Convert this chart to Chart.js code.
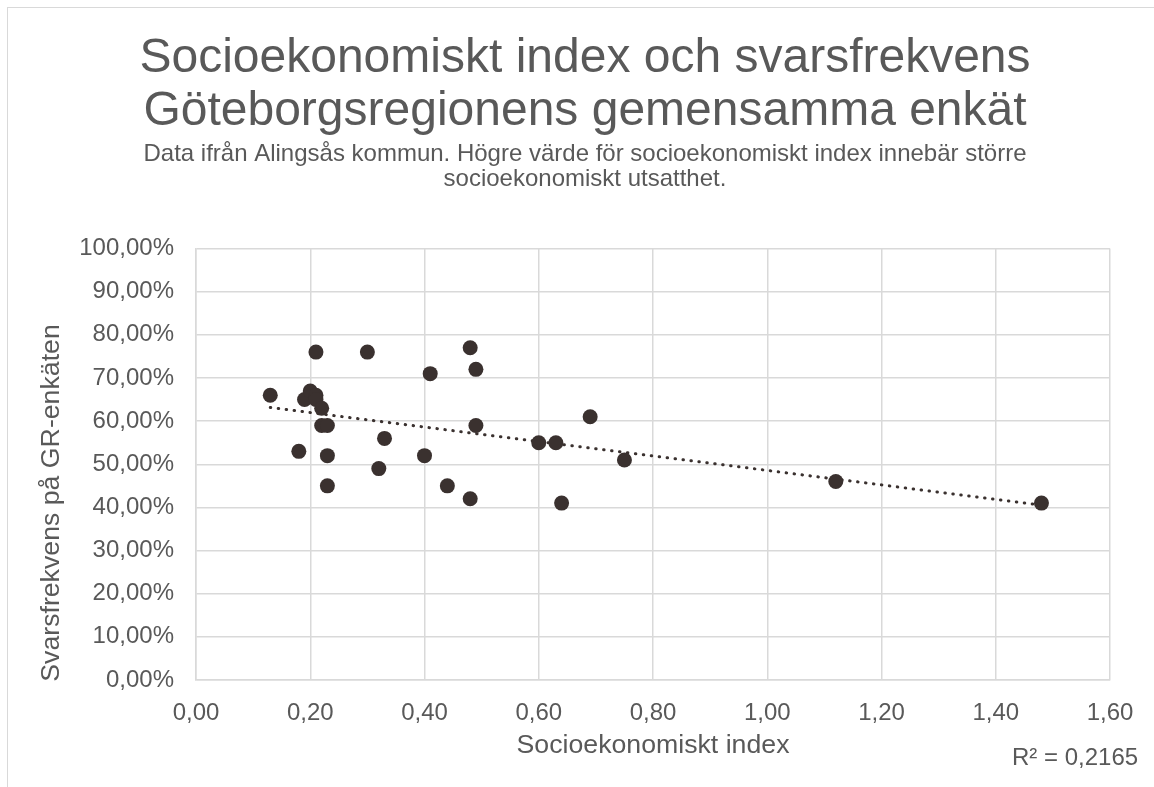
<!DOCTYPE html>
<html>
<head>
<meta charset="utf-8">
<script src="https://cdn.jsdelivr.net/npm/chart.js@4"></script>
<style>
  body { margin: 0; background: #fff; }
  #wrap { position: relative; width: 1154px; height: 787px; }
  #frame { position: absolute; left: 7px; top: 7px; right: 0; bottom: 0;
           border-top: 1px solid #d9d9d9; border-left: 1px solid #d9d9d9; pointer-events: none; }
</style>
</head>
<body>
<div id="wrap">
  <canvas id="chart" width="1154" height="787"></canvas>
  <div id="frame"></div>
</div>
<script>
// data
const socioIndex = [0.13, 0.18, 0.19, 0.20, 0.21, 0.21, 0.21, 0.22, 0.22, 0.23, 0.23, 0.23,
                    0.30, 0.32, 0.33, 0.40, 0.41, 0.44, 0.48, 0.48, 0.49, 0.49,
                    0.60, 0.63, 0.64, 0.69, 0.75, 1.12, 1.48];
const responseRate = [0.66, 0.53, 0.65, 0.67, 0.66, 0.76, 0.65, 0.63, 0.59, 0.59, 0.52, 0.45,
                      0.76, 0.49, 0.56, 0.52, 0.71, 0.45, 0.77, 0.42, 0.72, 0.59,
                      0.55, 0.55, 0.41, 0.61, 0.51, 0.46, 0.41];
const titleLines = ['Socioekonomiskt index och svarsfrekvens', 'Göteborgsregionens gemensamma enkät'];
const subtitleLines = ['Data ifrån Alingsås kommun. Högre värde för socioekonomiskt index innebär större',
                       'socioekonomiskt utsatthet.'];
const xAxisTitle = 'Socioekonomiskt index';
const yAxisTitle = 'Svarsfrekvens på GR-enkäten';
const rSquaredText = 'R² = 0,2165';

const FONT = "'Liberation Sans', Arial, sans-serif";
const TEXT = '#595959';
const GRID = '#d9d9d9';
const MARK = '#3a312f';

const points = socioIndex.map((x, i) => ({ x: x, y: responseRate[i] }));

// linear trendline (least squares)
const n = socioIndex.length;
const mx = socioIndex.reduce((a, b) => a + b, 0) / n;
const my = responseRate.reduce((a, b) => a + b, 0) / n;
let sxy = 0, sxx = 0;
socioIndex.forEach((x, i) => { sxy += (x - mx) * (responseRate[i] - my); sxx += (x - mx) * (x - mx); });
const slope = sxy / sxx;
const intercept = my - slope * mx;
const xMin = Math.min(...socioIndex), xMax = Math.max(...socioIndex);
const trend = [{ x: xMin, y: intercept + slope * xMin }, { x: xMax, y: intercept + slope * xMax }];

// axis titles + R² label
const extraText = {
    id: 'extraText',
    afterDraw(chart) {
        const ctx = chart.ctx;
        const area = chart.chartArea;
        ctx.save();
        ctx.fillStyle = TEXT;
        ctx.font = '26.7px ' + FONT;
        ctx.textAlign = 'center';
        ctx.textBaseline = 'middle';
        ctx.fillText(xAxisTitle, (area.left + area.right) / 2, 746);
        ctx.save();
        ctx.translate(52, 503);
        ctx.rotate(-Math.PI / 2);
        ctx.fillText(yAxisTitle, 0, 0);
        ctx.restore();
        ctx.font = '24px ' + FONT;
        ctx.textAlign = 'left';
        ctx.fillText(rSquaredText, 1012, 758);
        ctx.restore();
    }
};

new Chart(document.getElementById('chart').getContext('2d'), {
    type: 'scatter',
    data: {
        datasets: [{
            data: points,
            backgroundColor: MARK,
            borderWidth: 0,
            pointRadius: 7.5,
            pointHoverRadius: 7.5
        }, {
            type: 'line',
            data: trend,
            borderColor: MARK,
            borderWidth: 3,
            borderDash: [0.5, 7.5],
            borderCapStyle: 'round',
            pointRadius: 0,
            fill: false
        }]
    },
    options: {
        responsive: false,
        animation: false,
        devicePixelRatio: 1,
        layout: { padding: { left: 60, right: 44, top: 0, bottom: 0 } },
        plugins: {
            legend: { display: false },
            tooltip: { enabled: false },
            title: {
                display: true,
                text: titleLines,
                color: TEXT,
                font: { family: FONT, size: 48, weight: 'normal', lineHeight: 1.11 },
                padding: { top: 32, bottom: 0 }
            },
            subtitle: {
                display: true,
                text: subtitleLines,
                color: TEXT,
                font: { family: FONT, size: 24, weight: 'normal', lineHeight: '25px' },
                padding: { top: 3, bottom: 57 }
            }
        },
        scales: {
            x: {
                type: 'linear',
                min: 0,
                max: 1.6,
                afterFit: s => { s.height = 107; },
                ticks: {
                    stepSize: 0.2,
                    color: TEXT,
                    font: { family: FONT, size: 24 },
                    padding: 19,
                    maxRotation: 0,
                    callback: v => v.toFixed(2).replace('.', ',')
                },
                grid: { color: GRID, lineWidth: 1.5, drawTicks: false },
                border: { color: GRID, width: 1.5 }
            },
            y: {
                min: 0,
                max: 1,
                afterFit: s => { s.width = 136; },
                ticks: {
                    stepSize: 0.1,
                    color: TEXT,
                    font: { family: FONT, size: 24 },
                    padding: 22,
                    callback: v => (v * 100).toFixed(2).replace('.', ',') + '%'
                },
                grid: { color: GRID, lineWidth: 1.5, drawTicks: false },
                border: { color: GRID, width: 1.5 }
            }
        }
    },
    plugins: [extraText]
});
</script>
</body>
</html>
